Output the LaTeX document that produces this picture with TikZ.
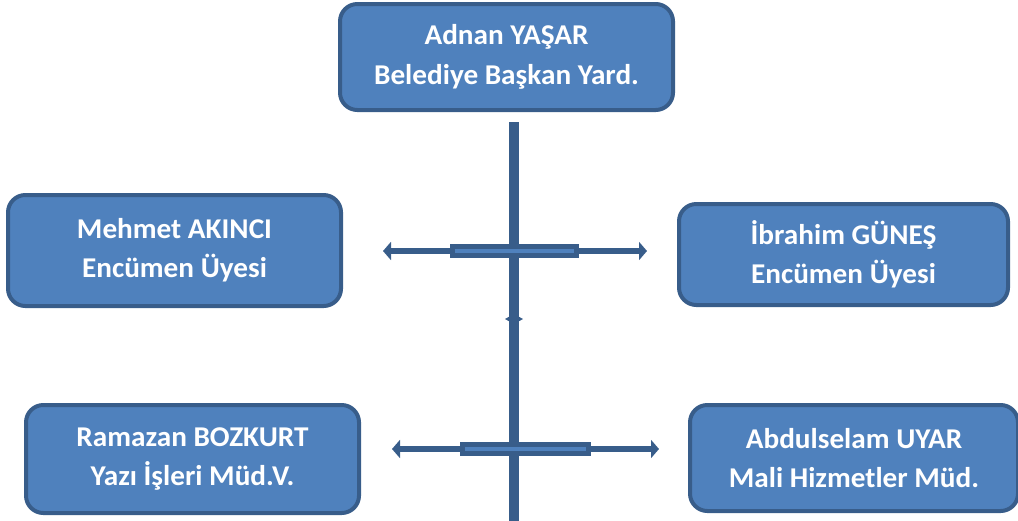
\documentclass[tikz,border=0pt]{standalone}
\usepackage{fontspec}
\setmainfont{Carlito}[FakeStretch=1.02]
\usetikzlibrary{positioning, arrows.meta}
\definecolor{boxfill}{HTML}{4F81BD}
\definecolor{boxline}{HTML}{385D8A}

\begin{document}
\begin{tikzpicture}[
    x=0.75pt, y=-0.75pt,
    box/.style = {
        draw=boxline,
        line width=3pt,
        fill=boxfill,
        rounded corners=13pt,
        text=white,
        align=center,
        inner sep=0pt,
        font=\bfseries\fontsize{21.5}{29.5}\selectfont,
    },
    spine/.style = {
        draw=boxline,
        line width=7.5pt,
    },
    branch/.style = {
        draw=boxline,
        line width=4.5pt,
        {Triangle[length=6pt, width=13.5pt]}-{Triangle[length=6pt, width=13.5pt]},
    },
    bar/.style = {
        fill=boxline,
    },
    barcore/.style = {
        draw=boxfill,
        line width=3pt,
    },
]
\useasboundingbox (0, 0) rectangle (1018, 521);
\node [box, minimum width=249.75pt, minimum height=79.5pt] (yasar) at (506.5, 57) {Adnan YAŞAR\\Belediye Başkan Yard.};
\node [box, minimum width=249.75pt, minimum height=83.25pt] (akinci) at (174.5, 250.5) {Mehmet AKINCI\\Encümen Üyesi};
\node [box, minimum width=246.75pt, minimum height=75.75pt] (gunes) at (843.5, 254.5) {İbrahim GÜNEŞ\\Encümen Üyesi};
\node [box, minimum width=249.75pt, minimum height=81pt] (bozkurt) at (192.5, 459) {Ramazan BOZKURT\\Yazı İşleri Müd.V.};
\node [box, minimum width=246pt, minimum height=79.5pt] (uyar) at (854, 458) {Abdulselam UYAR\\Mali Hizmetler Müd.};
\coordinate (spine-top) at (514, 122);
\coordinate (spine-end) at (514, 521);
\path [spine] (spine-top) -- (spine-end);
\coordinate (west1) at (383, 251);
\coordinate (east1) at (647, 251);
\path [branch] (west1) -- (east1);
\path [bar] (450, 244) rectangle (579, 258);
\path [barcore] (455, 251) -- (574, 251);
\path [fill=boxline] (505, 319) -- (514, 314) -- (523, 319) -- (514, 324) -- cycle;
\coordinate (west2) at (392, 449);
\coordinate (east2) at (659, 449);
\path [branch] (west2) -- (east2);
\path [bar] (460, 442) rectangle (591, 456);
\path [barcore] (465, 449) -- (586, 449);
\end{tikzpicture}
\end{document}
